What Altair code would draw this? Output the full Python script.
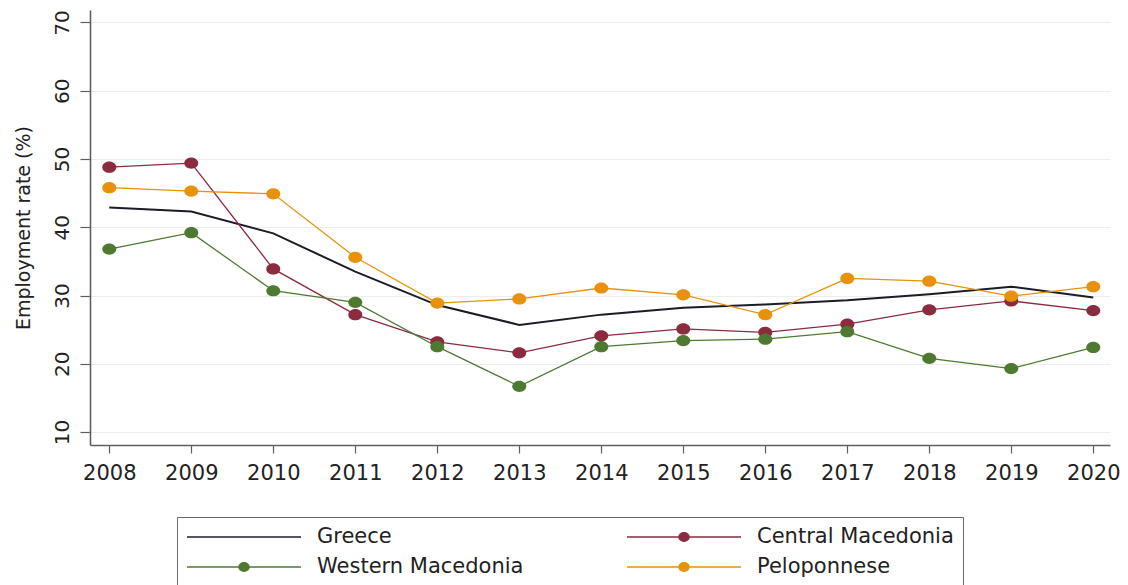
import altair as alt
import pandas as pd

# Employment rate (%) by year, 2008-2020
years = list(range(2008, 2021))
greece = [42.9, 42.3, 39.1, 33.5, 28.6, 25.7, 27.2, 28.2, 28.7, 29.3, 30.2, 31.3, 29.7]
central_macedonia = [48.8, 49.4, 33.9, 27.2, 23.2, 21.6, 24.1, 25.1, 24.6, 25.8, 27.9, 29.2, 27.8]
western_macedonia = [36.8, 39.2, 30.7, 29.0, 22.5, 16.7, 22.5, 23.4, 23.6, 24.7, 20.8, 19.3, 22.4]
peloponnese = [45.8, 45.3, 44.9, 35.6, 28.9, 29.5, 31.1, 30.1, 27.2, 32.5, 32.1, 29.9, 31.3]

series_names = ["Greece", "Central Macedonia", "Western Macedonia", "Peloponnese"]
series_colors = ["#1c1c28", "#8b2b3f", "#4d7a30", "#e8910c"]
y_ticks = [10, 20, 30, 40, 50, 60, 70]

rows = []
for name, values in zip(series_names, [greece, central_macedonia, western_macedonia, peloponnese]):
    for yr, v in zip(years, values):
        rows.append({"year": yr, "series": name, "rate": v})
df = pd.DataFrame(rows)

FONT = "DejaVu Sans"

# legend glyphs: a plain stroke for the national line, stroke + dot for regions
LINE_PATH = "M-1,0H1"
DOT_LINE_PATH = "M-1,0H1M0.09,0A0.09,0.075,0,1,1,-0.09,0A0.09,0.075,0,1,1,0.09,0Z"
DOT_PATH = "M1,0A1,0.8,0,1,1,-1,0A1,0.8,0,1,1,1,0Z"

legend = alt.Legend(
    title=None,
    orient="none",
    legendX=87,
    legendY=507,
    direction="horizontal",
    columns=2,
    columnPadding=102,
    rowPadding=8,
    padding=9,
    clipHeight=22,
    strokeColor="#6a6a6a",
    fillColor="white",
    labelFont=FONT,
    labelFontSize=21,
    labelColor="#222222",
    labelOffset=15,
    labelLimit=400,
    symbolType=alt.ExprRef(expr=f"datum.value === 'Greece' ? '{LINE_PATH}' : '{DOT_LINE_PATH}'"),
    symbolFillColor=alt.ExprRef(expr="scale('color', datum.value)"),
    symbolStrokeColor=alt.ExprRef(expr="scale('color', datum.value)"),
    symbolOpacity=1,
    symbolSize=12996,
    symbolStrokeWidth=1.3,
)

color = alt.Color(
    "series:N",
    scale=alt.Scale(domain=series_names, range=series_colors),
    sort=series_names,
    legend=legend,
)

x = alt.X(
    "year:Q",
    scale=alt.Scale(domain=[2007.765, 2020.204], nice=False, zero=False),
    axis=alt.Axis(
        values=years,
        format="d",
        title=None,
        grid=False,
        tickSize=8,
        labelPadding=9,
        labelFont=FONT,
        labelFontSize=21,
        labelColor="#222222",
        domainColor="#5f5f5f",
        domainWidth=1.6,
        tickColor="#5f5f5f",
        tickWidth=1.2,
    ),
)

y = alt.Y(
    "rate:Q",
    scale=alt.Scale(domain=[8.1, 71.83], nice=False, zero=False),
    axis=alt.Axis(
        values=y_ticks,
        title="Employment rate (%)",
        titleFont=FONT,
        titleFontSize=19,
        titleFontWeight="normal",
        titleColor="#222222",
        titleAngle=270,
        titleAlign="center",
        titleBaseline="bottom",
        titleX=-57,
        titleY=217.5,
        grid=True,
        gridColor="#ededed",
        gridWidth=1,
        tickSize=10,
        labelAngle=270,
        labelAlign="center",
        labelBaseline="bottom",
        labelPadding=8,
        labelFont=FONT,
        labelFontSize=20,
        labelColor="#222222",
        domainColor="#5f5f5f",
        domainWidth=1.6,
        tickColor="#5f5f5f",
        tickWidth=1.2,
    ),
)

lines = alt.Chart(df).mark_line().encode(
    x=x,
    y=y,
    color=color,
    strokeWidth=alt.condition(alt.datum.series == "Greece", alt.value(2.0), alt.value(1.3)),
    order="year:Q",
)

points = alt.Chart(df).transform_filter(
    alt.datum.series != "Greece"
).mark_point(shape=DOT_PATH, filled=True, size=196, opacity=1, strokeWidth=0).encode(
    x=x,
    y=y,
    color=color,
)

chart = alt.layer(lines, points).properties(
    width=1020,
    height=435,
    padding={"left": 90, "top": 10, "right": 18, "bottom": 140},
    autosize=alt.AutoSizeParams(type="none"),
    background="white",
).configure_view(stroke=None)

chart.save("out.html", embed_options={"renderer": "svg", "actions": False})
